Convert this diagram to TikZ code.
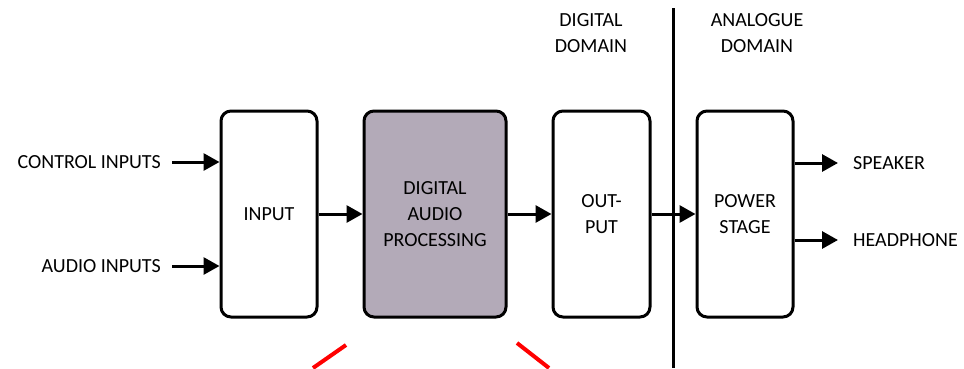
\documentclass[tikz,border=0pt]{standalone}
\usepackage{fontspec}
\setmainfont{Carlito}
\usetikzlibrary{arrows.meta,calc}
\definecolor{dspfill}{HTML}{B3AAB8}
\begin{document}
\begin{tikzpicture}[x=1pt,y=-1pt,
  blk/.style={draw=black,line width=3pt,rounded corners=10pt,minimum height=206pt,
    align=center,font=\fontsize{20}{26}\selectfont,inner sep=0pt},
  lbl/.style={font=\fontsize{20}{26}\selectfont,inner sep=0pt,align=center},
  arr/.style={line width=3pt,-{Triangle[length=16pt,width=17pt]}},
  redl/.style={draw=red,line width=4pt}]
\useasboundingbox (0,0) rectangle (964,368);

% processing blocks
\node[blk,minimum width=96pt] (in) at (269,214) {INPUT};
\node[blk,minimum width=142pt,fill=dspfill] (dsp) at (435,214) {DIGITAL\\AUDIO\\PROCESSING};
\node[blk,minimum width=97pt] (out) at (601.5,214) {OUT-\\PUT};
\node[blk,minimum width=96pt] (pwr) at (745,214) {POWER\\STAGE};

% domain headings and boundary
\node[lbl] (dig) at (591,33) {DIGITAL\\DOMAIN};
\node[lbl] (ana) at (757,33) {ANALOGUE\\DOMAIN};
\coordinate (bt) at (673,8);
\coordinate (bb) at (673,368);
\draw[line width=3pt] (bt) -- (bb);

% input side
\node[lbl,anchor=east] (ctl) at (161,162) {CONTROL INPUTS};
\node[lbl,anchor=east] (aud) at (161,266) {AUDIO INPUTS};
\coordinate (ctls) at (172,162);
\coordinate (auds) at (172,266);
\draw[arr] (ctls) -- (ctls -| in.west);
\draw[arr] (auds) -- (auds -| in.west);

% signal chain
\draw[arr] (in.east) -- (dsp.west);
\draw[arr] (dsp.east) -- (out.west);
\draw[arr] (out.east) -- (pwr.west);

% outputs
\node[lbl,anchor=west] (spk) at (853,163) {SPEAKER};
\node[lbl,anchor=west] (hp) at (853,240) {HEADPHONE};
\draw[arr] (pwr.east |- spk.west) -- ([xshift=-15pt]spk.west);
\draw[arr] (pwr.east |- hp.west) -- ([xshift=-15pt]hp.west);

% red strokes at the bottom
\coordinate (r1a) at (313,368);
\coordinate (r1b) at (346,345);
\coordinate (r2a) at (517,343);
\coordinate (r2b) at (549,368);
\draw[redl] (r1a) -- (r1b);
\draw[redl] (r2a) -- (r2b);
\end{tikzpicture}
\end{document}
